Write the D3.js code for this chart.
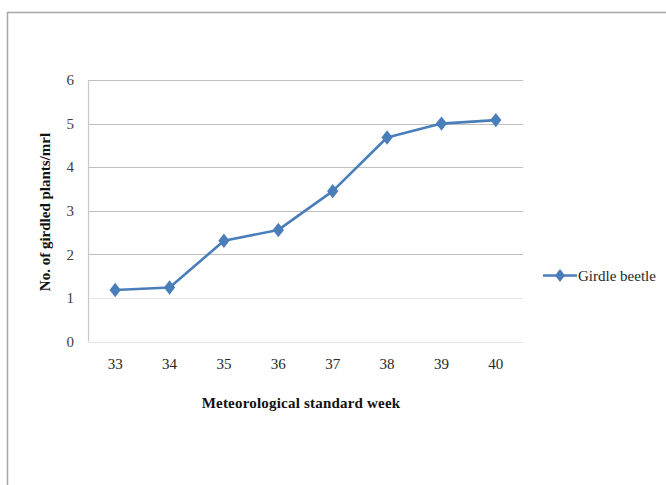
<!DOCTYPE html>
<html>
<head>
<meta charset="utf-8">
<script src="https://cdn.jsdelivr.net/npm/d3@7"></script>
<style>
  html, body { margin: 0; padding: 0; background: #fff; }
  svg { display: block; }
  svg text { font-family: "Liberation Serif", "Times New Roman", serif; }
</style>
</head>
<body>
<svg id="chart" width="666" height="485"></svg>
<script>
// Girdled plants per metre row length by meteorological standard week
const weeks = ["33", "34", "35", "36", "37", "38", "39", "40"];
const girdled = [1.18, 1.24, 2.31, 2.56, 3.45, 4.68, 5.0, 5.08];
const yTicks = [0, 1, 2, 3, 4, 5, 6];
const seriesName = "Girdle beetle";

const svg = d3.select("#chart");
const plot = { left: 88, right: 523, top: 80, bottom: 341.5 };
const lineColor = "#4a7ebb";
const serif = "'Liberation Serif', 'Times New Roman', serif";

// Outer frame (left and top edges)
svg.append("path")
  .attr("d", "M7.5,485 V12.5 H666")
  .attr("fill", "none")
  .attr("stroke", "#a6a6a6")
  .attr("stroke-width", 1.5);

const x = d3.scaleBand().domain(weeks).range([plot.left, plot.right]);
const y = d3.scaleLinear().domain([0, 6]).range([plot.bottom, plot.top]);

// Horizontal gridlines
svg.append("g")
  .selectAll("line")
  .data(yTicks)
  .join("line")
  .attr("x1", plot.left)
  .attr("x2", plot.right)
  .attr("y1", d => Math.round(y(d)) + 0.5)
  .attr("y2", d => Math.round(y(d)) + 0.5)
  .attr("stroke", d => d <= 1 ? "#e6e6e6" : "#bfbfbf")
  .attr("stroke-width", 1.2);

// Vertical axis line
svg.append("line")
  .attr("x1", plot.left + 0.5).attr("x2", plot.left + 0.5)
  .attr("y1", plot.top).attr("y2", plot.bottom)
  .attr("stroke", "#c8c8c8")
  .attr("stroke-width", 1.2);

// Y axis tick labels
const yAxis = d3.axisLeft(y).tickValues(yTicks).tickSize(0).tickPadding(14).tickFormat(d3.format("d"));
const gy = svg.append("g").attr("transform", `translate(${plot.left},0)`).call(yAxis);
gy.attr("font-family", null);
gy.select(".domain").remove();
gy.selectAll("text")
  .style("font-family", serif)
  .style("font-size", "15px")
  .attr("fill", "#404040");

// X axis tick labels
const xAxis = d3.axisBottom(x).tickSize(0).tickPadding(17);
const gx = svg.append("g").attr("transform", `translate(0,${plot.bottom})`).call(xAxis);
gx.attr("font-family", null);
gx.select(".domain").remove();
gx.selectAll("text")
  .style("font-family", serif)
  .style("font-size", "15px")
  .attr("fill", "#262626");

// Axis titles
svg.append("text")
  .attr("x", 301).attr("y", 408)
  .attr("text-anchor", "middle")
  .style("font-family", serif)
  .style("font-size", "15px")
  .attr("font-weight", "bold")
  .attr("fill", "#111")
  .attr("letter-spacing", 0.2)
  .text("Meteorological standard week");

svg.append("text")
  .attr("transform", "translate(50,212) rotate(-90)")
  .attr("text-anchor", "middle")
  .style("font-family", serif)
  .style("font-size", "15px")
  .attr("font-weight", "bold")
  .attr("fill", "#111")
  .text("No. of girdled plants/mrl");

// Data line and markers
const cx = d => x(d) + x.bandwidth() / 2;
const line = d3.line().x((d, i) => cx(weeks[i])).y(d => y(d));

svg.append("path")
  .datum(girdled)
  .attr("d", line)
  .attr("fill", "none")
  .attr("stroke", lineColor)
  .attr("stroke-width", 2.6)
  .attr("stroke-linejoin", "round");

const diamond = d3.symbol().type(d3.symbolDiamond).size(60);
svg.append("g")
  .selectAll("path")
  .data(girdled)
  .join("path")
  .attr("transform", (d, i) => `translate(${cx(weeks[i])},${y(d)}) scale(1.35,1)`)
  .attr("d", diamond)
  .attr("fill", lineColor);

// Legend
const lg = svg.append("g").attr("transform", "translate(543,275.5)");
lg.append("line")
  .attr("x1", 0).attr("x2", 34)
  .attr("stroke", lineColor).attr("stroke-width", 2.6);
lg.append("path")
  .attr("transform", "translate(17,0) scale(1.2,0.9)")
  .attr("d", diamond)
  .attr("fill", lineColor);
lg.append("text")
  .attr("x", 35).attr("y", 5)
  .style("font-family", serif)
  .style("font-size", "15px")
  .attr("fill", "#262626")
  .text(seriesName);
</script>
</body>
</html>
